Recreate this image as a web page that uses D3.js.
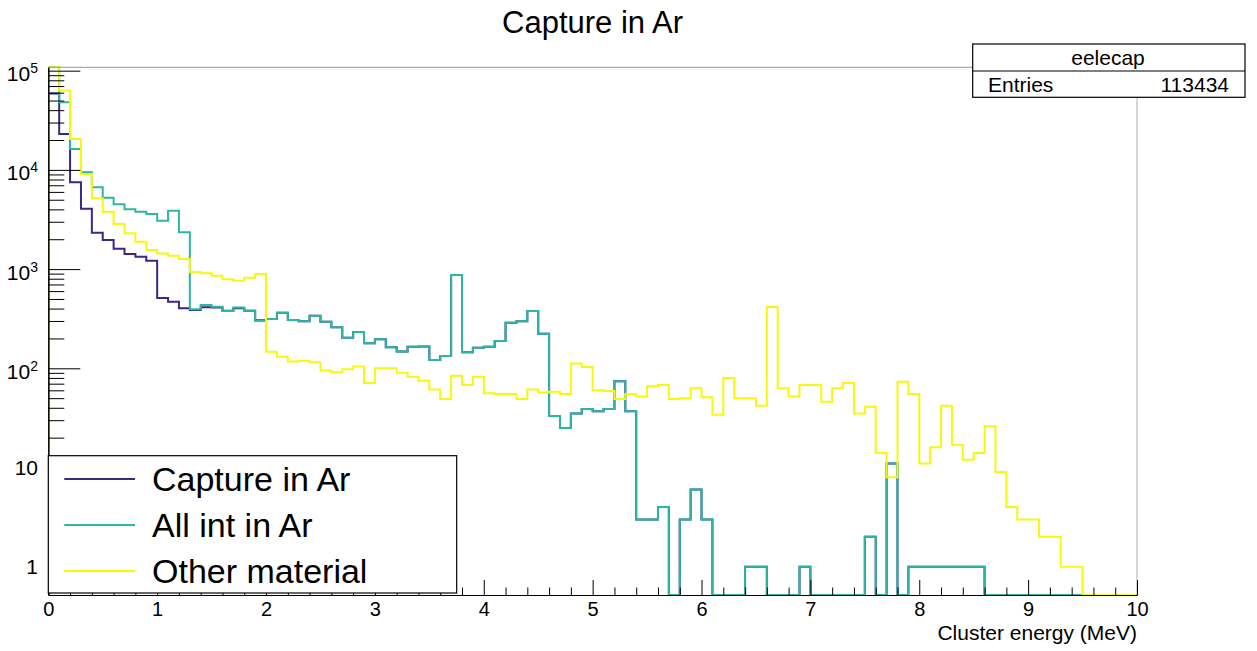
<html>
<head>
<meta charset="utf-8">
<script src="https://cdn.jsdelivr.net/npm/d3@7"></script>
<style>
    body { margin: 0; background-color: #ffffff; }
    text { font-family: "Liberation Sans", Arial, Helvetica, sans-serif; fill: #000; }
    .hist { fill: none; stroke-width: 2; stroke-linejoin: miter; }
    .axis path, .axis line { stroke: #000; }
</style>
<script>
// histogram binning (100 bins of 0.1 MeV)
var binLow = 0, binHigh = 10, nBins = 100;

// bin contents, one row = 1 MeV
var captureAr = [
    59000, 23000, 7500, 4060, 2330, 1960, 1600, 1420, 1335, 1215,
    510, 469, 403, 387, 412, 410, 381, 403, 381, 305,
    314, 364, 307, 298, 339, 295, 259, 203, 232, 179,
    196, 163, 148, 165, 166, 121, 133, 872, 145, 161,
    165, 188, 288, 298, 378, 223, 33, 25, 35, 39,
    37, 39, 74, 37, 3, 3, 4, 0, 3, 6,
    3, 0, 0, 0, 1, 1, 0, 0, 0, 1,
    0, 0, 0, 0, 0, 2, 0, 11, 0, 1,
    1, 1, 1, 1, 1, 1, 0, 0, 0, 0,
    0, 0, 0, 0, 0, 0, 0, 0, 0, 0
];
var allIntAr = [
    110000, 48000, 16200, 9460, 6670, 5250, 4500, 4010, 3790, 3590,
    3080, 3880, 2350, 393, 435, 418, 378, 410, 381, 302,
    314, 364, 307, 298, 339, 295, 259, 203, 232, 179,
    196, 163, 148, 165, 166, 121, 133, 872, 145, 161,
    165, 188, 288, 298, 378, 223, 33, 25, 35, 39,
    37, 39, 74, 37, 3, 3, 4, 0, 3, 6,
    3, 0, 0, 0, 1, 1, 0, 0, 0, 1,
    0, 0, 0, 0, 0, 2, 0, 11, 0, 1,
    1, 1, 1, 1, 1, 1, 0, 0, 0, 0,
    0, 0, 0, 0, 0, 0, 0, 0, 0, 0
];
var otherMat = [
    130000, 63000, 20500, 9100, 5170, 3790, 2850, 2300, 1890, 1560,
    1440, 1360, 1265, 935, 906, 857, 788, 764, 819, 893,
    147, 131, 117, 119, 115, 95, 91, 98, 104, 71,
    100, 100, 90, 82, 75, 61, 49, 84, 68, 82,
    56, 55, 55, 49, 61, 57, 58, 55, 112, 103,
    60, 59, 49, 55, 52, 66, 68, 49, 50, 63,
    51, 34, 80, 50, 50, 42, 415, 63, 52, 68,
    68, 46, 63, 71, 35, 41, 14, 8, 73, 55,
    11, 16, 42, 17, 12, 14, 26, 9, 4, 3,
    3, 2, 2, 1, 1, 0, 0, 0, 0, 0
];

var seriesNames = ["Capture in Ar", "All int in Ar", "Other material"];
var seriesColors = ["#352a87", "#2db7a2", "#f8f80c"];
var xTickValues = [0, 1, 2, 3, 4, 5, 6, 7, 8, 9, 10];
var yTickValues = [1, 10, 100, 1000, 10000, 100000];
var yTickBase = ["1", "10", "10", "10", "10", "10"];
var yTickExp = ["", "", "2", "3", "4", "5"];

var chartTitle = "Capture in Ar";
var xTitle = "Cluster energy (MeV)";
var statName = "eelecap", statLabel = "Entries", statValue = "113434";

function load(){

var svg = d3.select("svg");

/* frame in pixels */
var left = 48.3, right = 1137, top = 67.3, bottom = 595;

var x = d3.scaleLinear()
    .domain([binLow, binHigh])
    .range([left, right]);

// log y, frame runs a bit below 1 and a bit above 1e5
var y = d3.scaleLog()
    .domain([Math.pow(10, -0.285), Math.pow(10, 5.034)])
    .range([bottom, top]);

svg.append("defs").append("clipPath").attr("id", "frameClip")
  .append("rect")
    .attr("x", left).attr("y", top - 1)
    .attr("width", right - left).attr("height", bottom - top + 1);

/*the histogram outline: up from the floor, step across every bin, down at the end*/
var binW = (binHigh - binLow) / nBins;
var floorVal = y.domain()[0];
function histPoints(vals){
    var pts = [[binLow, floorVal]];
    vals.forEach(function(v, i){
        var lo = binLow + i * binW;
        var yv = v > 0 ? v : floorVal;
        pts.push([lo, yv], [lo + binW, yv]);
    });
    pts.push([binHigh, floorVal]);
    return pts;
}

var line = d3.line()
    .x(function(d) { return x(d[0]); })
    .y(function(d) { return y(Math.min(d[1], y.domain()[1] * 1.01)); });

var series = [captureAr, allIntAr, otherMat];

svg.append("g")
    .attr("clip-path", "url(#frameClip)")
  .selectAll("path")
  .data(series)
  .enter().append("path")
    .attr("class", "hist")
    .attr("stroke", function(d, i) { return seriesColors[i]; })
    .attr("d", function(d) { return line(histPoints(d)); });

//grey frame top and right
svg.append("line")
    .attr("x1", left).attr("x2", right).attr("y1", top).attr("y2", top)
    .attr("stroke", "#999").attr("stroke-width", 1);
svg.append("line")
    .attr("x1", right).attr("x2", right).attr("y1", top).attr("y2", bottom)
    .attr("stroke", "#aaa").attr("stroke-width", 1);

/*x axis, ticks pointing up into the frame*/
var xMinor = d3.range(1, 50).map(function(k) { return k * 0.2; })
    .filter(function(v) { return Math.abs(v - Math.round(v)) > 1e-6; });

svg.append("g")
    .attr("class", "axis")
    .attr("transform", "translate(0," + bottom + ")")
    .call(d3.axisBottom(x).tickValues(xMinor).tickSize(-7.5).tickSizeOuter(0).tickFormat(""));

svg.append("g")
    .attr("class", "axis")
    .attr("transform", "translate(0," + bottom + ")")
    .call(d3.axisBottom(x).tickValues(xTickValues).tickSize(-15).tickSizeOuter(0).tickPadding(7)
        .tickFormat(function(d) { return d + ""; }))
    .selectAll("text")
    .style("font-size", "20px");

/*y axis, major and minor log ticks pointing right*/
var yMinor = [];
yTickValues.slice(0, 5).forEach(function(dec) {
    for (var k = 2; k <= 9; k++) yMinor.push(k * dec);
});
yMinor = yMinor.filter(function(v) { return v < y.domain()[1]; });
[0.6, 0.7, 0.8, 0.9].forEach(function(v) { if (v > floorVal) yMinor.push(v); });

svg.append("g")
    .attr("class", "axis")
    .attr("transform", "translate(" + left + ",0)")
    .call(d3.axisRight(y).tickValues(yMinor).tickSize(16).tickSizeOuter(0).tickFormat(""));

svg.append("g")
    .attr("class", "axis")
    .attr("transform", "translate(" + left + ",0)")
    .call(d3.axisRight(y).tickValues(yTickValues).tickSize(32).tickSizeOuter(0).tickFormat(""));

var yLab = svg.append("g").selectAll("text")
    .data(yTickValues)
  .enter().append("text")
    .attr("x", 38)
    .attr("y", function(d, i) { return y(d) + (yTickExp[i] ? 10.5 : 7.5); })
    .attr("text-anchor", "end")
    .style("font-size", "21px");
yLab.append("tspan").text(function(d, i) { return yTickBase[i]; });
yLab.append("tspan")
    .attr("dy", -8)
    .style("font-size", "14px")
    .text(function(d, i) { return yTickExp[i]; });

// axis title
svg.append("text")
    .attr("x", right)
    .attr("y", 640)
    .attr("text-anchor", "end")
    .style("font-size", "21px")
    .text(xTitle);

// title
svg.append("text")
    .attr("x", 592.5)
    .attr("y", 32.7)
    .attr("text-anchor", "middle")
    .style("font-size", "31px")
    .text(chartTitle);

/*stats box*/
var st = svg.append("g");
st.append("rect")
    .attr("x", 972.7).attr("y", 44)
    .attr("width", 272.3).attr("height", 53.3)
    .attr("fill", "#fff").attr("stroke", "#000").attr("stroke-width", 1.2);
st.append("line")
    .attr("x1", 972.7).attr("x2", 1245).attr("y1", 71).attr("y2", 71)
    .attr("stroke", "#000").attr("stroke-width", 1.2);
st.append("text").attr("x", 1108).attr("y", 65)
    .attr("text-anchor", "middle").style("font-size", "21px").text(statName);
st.append("text").attr("x", 988).attr("y", 91.5)
    .style("font-size", "21px").text(statLabel);
st.append("text").attr("x", 1229).attr("y", 91.5)
    .attr("text-anchor", "end").style("font-size", "21px").text(statValue);

/*legend*/
var lg = svg.append("g");
lg.append("rect")
    .attr("x", 48.3).attr("y", 455.7)
    .attr("width", 408.4).attr("height", 137.3)
    .attr("fill", "#fff").attr("stroke", "#000").attr("stroke-width", 1.2);

var rows = lg.selectAll("g.row")
    .data(seriesNames)
  .enter().append("g")
    .attr("class", "row")
    .attr("transform", function(d, i) { return "translate(0," + (479 + i * 46) + ")"; });
rows.append("line")
    .attr("x1", 64.3).attr("x2", 135)
    .attr("stroke", function(d, i) { return seriesColors[i]; })
    .attr("stroke-width", 2);
rows.append("text")
    .attr("x", 152)
    .attr("y", 11.5)
    .style("font-size", "34px")
    .text(function(d) { return d; });

}
</script>
</head>
<body onload="load()">
<svg width="1257" height="651"></svg>
</body>
</html>
